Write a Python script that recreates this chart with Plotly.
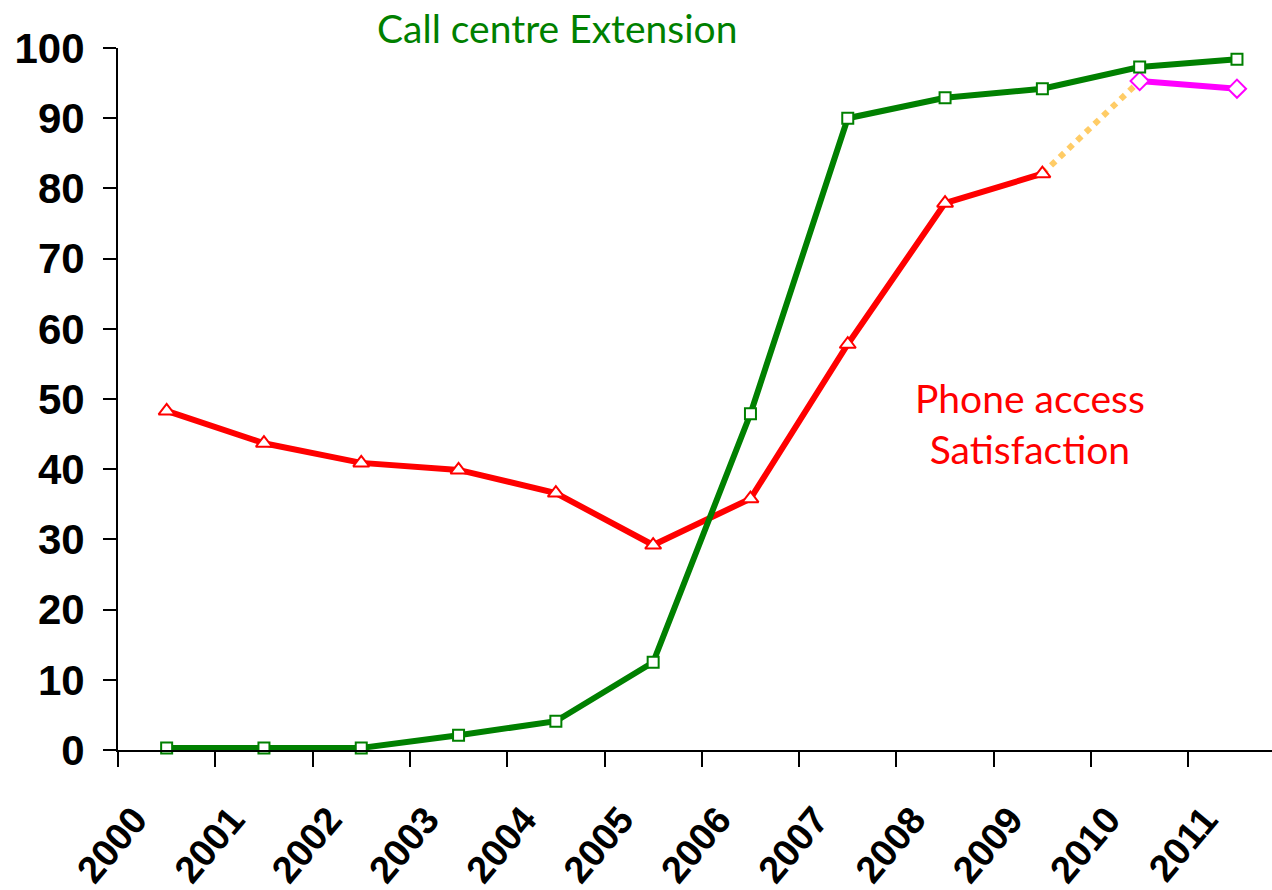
import plotly.graph_objects as go

years = ["2000", "2001", "2002", "2003", "2004", "2005",
         "2006", "2007", "2008", "2009", "2010", "2011"]

call_centre_ext = [0.3, 0.3, 0.3, 2.1, 4.1, 12.5, 47.9, 90.0, 92.9, 94.2, 97.3, 98.4]

phone_years = years[:10]
phone_satisfaction = [48.3, 43.7, 40.9, 39.9, 36.6, 29.2, 35.8, 57.8, 77.9, 82.1]

bridge_years = ["2009", "2010"]
bridge_values = [82.1, 95.3]

new_years = ["2010", "2011"]
new_satisfaction = [95.3, 94.2]

yticks = [0, 10, 20, 30, 40, 50, 60, 70, 80, 90, 100]

# plot area geometry (pixels)
PLOT_L, PLOT_T, PLOT_W, PLOT_H = 118, 48, 1154, 702

fig = go.Figure()

# dotted link between the old and new satisfaction surveys
fig.add_trace(go.Scatter(
    x=bridge_years, y=bridge_values, mode="lines",
    line=dict(color="#FFCC66", width=6, dash="6px,6px"),
    cliponaxis=False, hoverinfo="skip"))

fig.add_trace(go.Scatter(
    x=phone_years, y=phone_satisfaction, mode="lines+markers",
    line=dict(color="#FF0000", width=6),
    marker=dict(symbol="triangle-up", size=14, color="white",
                line=dict(color="#FF0000", width=2)),
    cliponaxis=False))

fig.add_trace(go.Scatter(
    x=new_years, y=new_satisfaction, mode="lines+markers",
    line=dict(color="#FF00FF", width=6),
    marker=dict(symbol="diamond", size=14, color="white",
                line=dict(color="#FF00FF", width=2)),
    cliponaxis=False))

fig.add_trace(go.Scatter(
    x=years, y=call_centre_ext, mode="lines+markers",
    line=dict(color="#008000", width=6),
    marker=dict(symbol="square", size=11, color="white",
                line=dict(color="#008000", width=2)),
    cliponaxis=False))


def dom_x(px):
    return (px - PLOT_L) / PLOT_W


def dom_y(py):
    return (PLOT_T + PLOT_H - py) / PLOT_H


fig.add_annotation(
    xref="x domain", yref="y domain", x=dom_x(557), y=dom_y(28),
    xanchor="center", yanchor="middle",
    text="Call centre Extension", showarrow=False,
    font=dict(family="Lato", size=39, color="#008000"))

fig.add_annotation(
    xref="x domain", yref="y domain", x=dom_x(1030), y=dom_y(423),
    xanchor="center", yanchor="middle",
    text="Phone access<br>Satisfaction", showarrow=False,
    font=dict(family="Lato", size=39, color="#FF0000"))

fig.update_layout(
    width=1272, height=890,
    margin=dict(l=PLOT_L, r=1272 - PLOT_L - PLOT_W, t=PLOT_T, b=890 - PLOT_T - PLOT_H),
    paper_bgcolor="white", plot_bgcolor="white",
    showlegend=False,
    xaxis=dict(
        type="category", categoryorder="array", categoryarray=years,
        range=[-0.5, 11.36],
        tickson="boundaries", ticks="outside", ticklen=15, tickwidth=2,
        tickcolor="black", showline=True, linecolor="black", linewidth=2,
        showgrid=False, zeroline=False, tickangle=-50,
        ticklabelshift=-32, ticklabelstandoff=30,
        tickfont=dict(family="Liberation Sans", size=38, color="black",
                      weight="bold"),
    ),
    yaxis=dict(
        range=[0, 100], tickvals=yticks, ticks="outside", ticklen=13,
        tickwidth=2, tickcolor="black", showline=True, linecolor="black",
        linewidth=2, showgrid=False, zeroline=False, ticklabelstandoff=10,
        tickfont=dict(family="Liberation Sans", size=42, color="black",
                      weight="bold"),
    ),
)

fig.write_html("out.html")
